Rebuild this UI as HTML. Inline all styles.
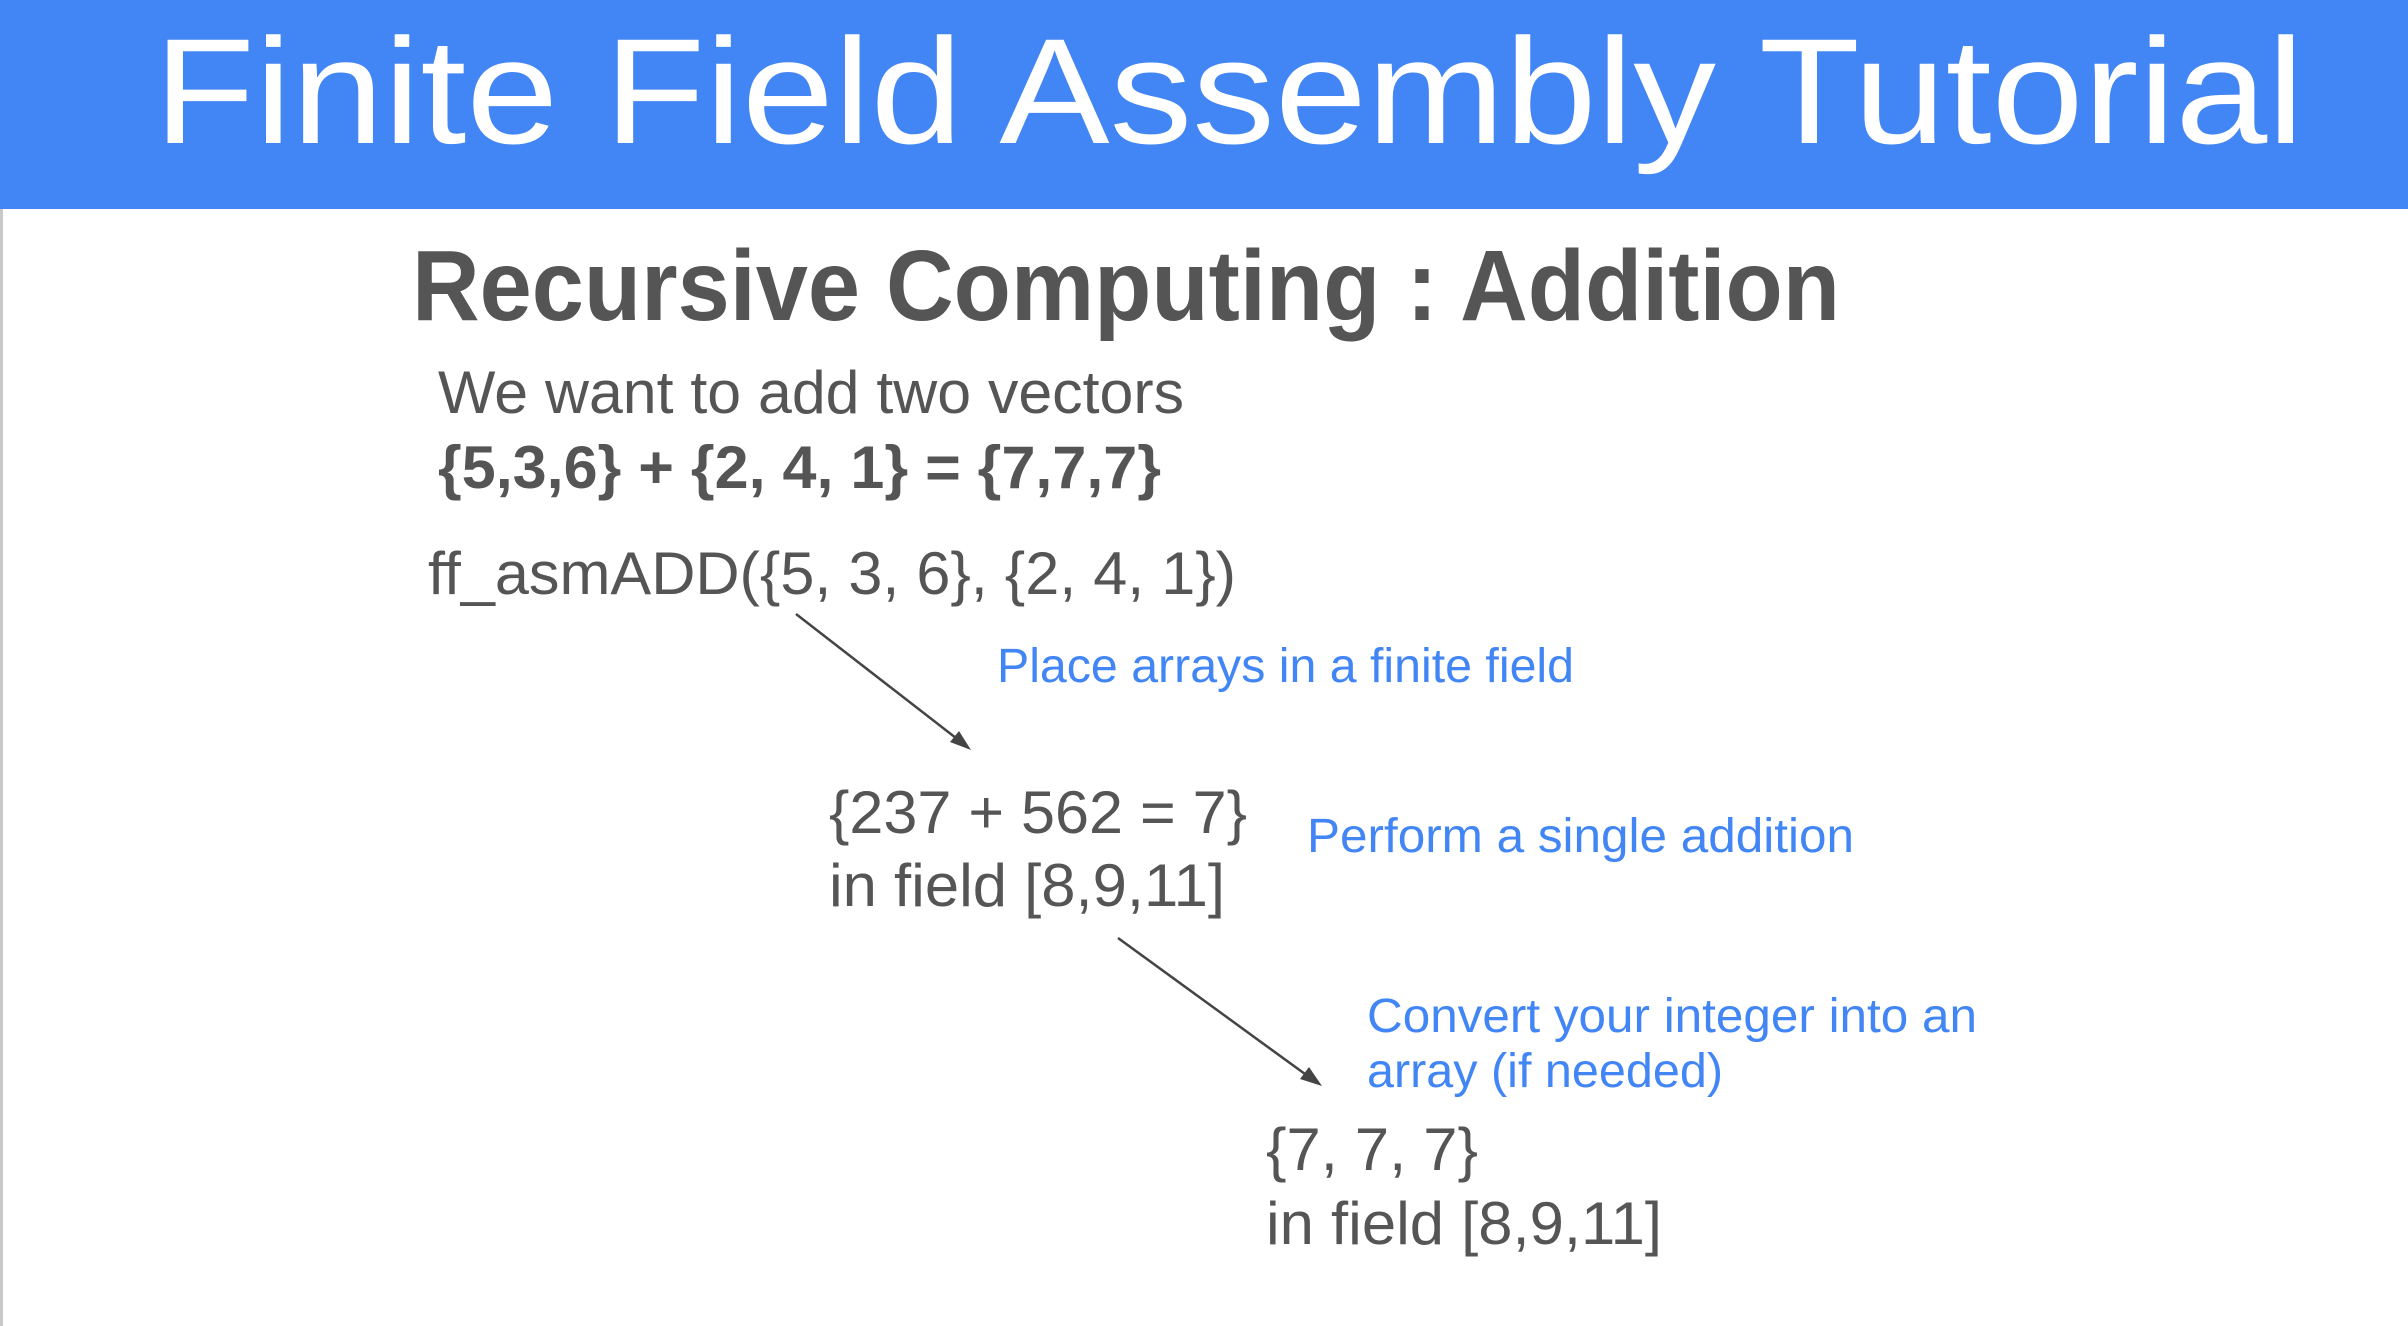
<!DOCTYPE html>
<html><head><meta charset="utf-8"><style>
html,body{margin:0;padding:0;background:#fff;}
svg{display:block;}
</style></head><body>
<svg width="2408" height="1326" viewBox="0 0 2408 1326" xmlns="http://www.w3.org/2000/svg">
<rect x="0" y="0" width="2408" height="1326" fill="#fff"/>
<rect x="0" y="0" width="2408" height="209" fill="#4285f4"/>
<rect x="0" y="209" width="3" height="1117" fill="#c8c8c8"/>
<text x="154" y="143" font-family="Liberation Sans, sans-serif" font-size="150" font-weight="300" fill="#fff" textLength="2150" lengthAdjust="spacingAndGlyphs">Finite Field Assembly Tutorial</text>
<g font-family="Liberation Sans, sans-serif" fill="#555">
<text x="412" y="320" font-size="100" font-weight="bold" textLength="1428" lengthAdjust="spacingAndGlyphs">Recursive Computing : Addition</text>
<text x="438" y="413" font-size="60" textLength="746" lengthAdjust="spacingAndGlyphs">We want to add two vectors</text>
<text x="438" y="488" font-size="60" font-weight="bold" textLength="723" lengthAdjust="spacingAndGlyphs">{5,3,6} + {2, 4, 1} = {7,7,7}</text>
<text x="428" y="594" font-size="60" textLength="808" lengthAdjust="spacingAndGlyphs">ff_asmADD({5, 3, 6}, {2, 4, 1})</text>
<text x="829" y="833" font-size="60" textLength="418" lengthAdjust="spacingAndGlyphs">{237 + 562 = 7}</text>
<text x="829" y="906" font-size="60" textLength="396" lengthAdjust="spacingAndGlyphs">in field [8,9,11]</text>
<text x="1266" y="1170" font-size="60" textLength="212" lengthAdjust="spacingAndGlyphs">{7, 7, 7}</text>
<text x="1266" y="1244" font-size="60" textLength="396" lengthAdjust="spacingAndGlyphs">in field [8,9,11]</text>
</g>
<g font-family="Liberation Sans, sans-serif" fill="#4285f4" font-size="48" font-weight="300">
<text x="997" y="682" textLength="577" lengthAdjust="spacingAndGlyphs">Place arrays in a finite field</text>
<text x="1307" y="852" textLength="547" lengthAdjust="spacingAndGlyphs">Perform a single addition</text>
<text x="1367" y="1032" textLength="610" lengthAdjust="spacingAndGlyphs">Convert your integer into an</text>
<text x="1367" y="1087" textLength="356" lengthAdjust="spacingAndGlyphs">array (if needed)</text>
</g>
<g stroke="#444" stroke-width="2.5" fill="none">
<line x1="796" y1="614" x2="965" y2="745"/>
<line x1="1118" y1="938" x2="1316" y2="1082"/>
</g>
<g fill="#444">
<path d="M971,750 L950,742 L959,731 Z"/>
<path d="M1322,1086 L1300,1079 L1309,1067 Z"/>
</g>
</svg>
</body></html>
